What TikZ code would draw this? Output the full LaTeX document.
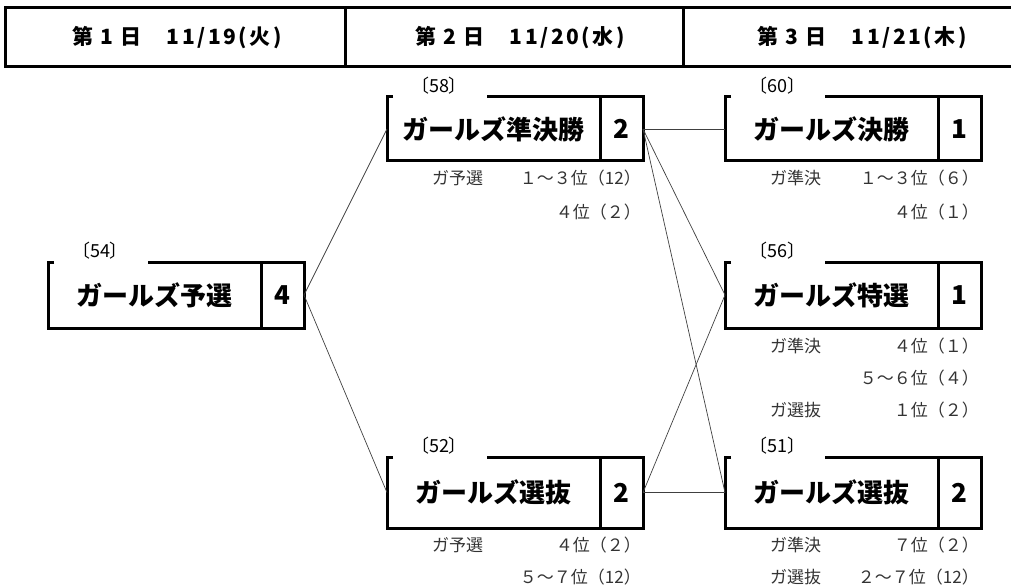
\documentclass[tikz,border=0pt]{standalone}
\usepackage{fontspec}
\setmainfont{Noto Sans CJK JP}

\tikzset{
  head/.style={font=\bfseries\fontsize{21}{24}\selectfont\addfontfeatures{LetterSpace=12}},
  title/.style={inner sep=0pt, outer sep=0pt, minimum width=213pt, font=\bfseries\fontsize{26}{28}\selectfont},
  count/.style={inner sep=0pt, outer sep=0pt, minimum width=43pt, font=\bfseries\fontsize{26}{28}\selectfont},
  tag/.style={inner sep=0pt, font=\fontsize{18}{20}\selectfont},
  note/.style={inner sep=0pt, text=black!80, font=\fontsize{17}{19}\selectfont},
  frame/.style={line width=3pt, line join=miter},
  link/.style={line width=0.7pt, draw=black!75}
}

\begin{document}
\begin{tikzpicture}[x=1pt, y=-1pt]
  \useasboundingbox (0,0) rectangle (1011,588);

  % header
  \draw[frame] (5,8) rectangle (1040,67);
  \draw[frame] (345,8) -- (345,67);
  \draw[frame] (683,8) -- (683,67);
  \node[head] (d1) at (177,38) {第 1 日\hspace{1.2em}11/19(火)};
  \node[head] (d2) at (520,38) {第 2 日\hspace{1.2em}11/20(水)};
  \node[head] (d3) at (862,38) {第 3 日\hspace{1.2em}11/21(木)};

  % races
  \foreach \id/\x/\y/\h/\name/\n in {54/48/262/66/ガールズ予選/4,
      58/387/97/64/ガールズ準決勝/2, 52/387/457/71/ガールズ選抜/2,
      60/725/97/64/ガールズ決勝/1, 56/725/262/66/ガールズ特選/1,
      51/725/457/71/ガールズ選抜/2} {
    \node[title, minimum height=\h pt] (t\id) at (\x+106.5,\y+\h/2) {\name};
    \node[count, minimum height=\h pt] (c\id) at (\x+234.5,\y+\h/2) {\n};
    \node[tag] (l\id) at (\x+52,\y-11) {〔\id〕};
    \draw[frame] ([xshift=6pt]t\id.north west) -- (t\id.north west) -- (t\id.south west)
      -- (c\id.south east) -- (c\id.north east) -- ([xshift=100pt]t\id.north west);
    \draw[frame] (c\id.north west) -- (c\id.south west);
  }

  % qualifiers
  \node[note, anchor=west] (g58a) at (432,178) {ガ予選};
  \node[note, anchor=east] (s58a) at (641,178) {１～３位（12）};
  \node[note, anchor=east] (s58b) at (641,212) {４位（２）};

  \node[note, anchor=west] (g52a) at (432,545) {ガ予選};
  \node[note, anchor=east] (s52a) at (641,545) {４位（２）};
  \node[note, anchor=east] (s52b) at (641,577) {５～７位（12）};

  \node[note, anchor=west] (g60a) at (770,178) {ガ準決};
  \node[note, anchor=east] (s60a) at (979,178) {１～３位（６）};
  \node[note, anchor=east] (s60b) at (979,212) {４位（１）};

  \node[note, anchor=west] (g56a) at (770,346) {ガ準決};
  \node[note, anchor=east] (s56a) at (979,346) {４位（１）};
  \node[note, anchor=east] (s56b) at (979,378) {５～６位（４）};
  \node[note, anchor=west] (g56c) at (770,410) {ガ選抜};
  \node[note, anchor=east] (s56c) at (979,410) {１位（２）};

  \node[note, anchor=west] (g51a) at (770,545) {ガ準決};
  \node[note, anchor=east] (s51a) at (979,545) {７位（２）};
  \node[note, anchor=west] (g51b) at (770,577) {ガ選抜};
  \node[note, anchor=east] (s51b) at (979,577) {２～７位（12）};

  % connectors
  \draw[link] (c54.east) -- (t58.west);
  \draw[link] (c54.east) -- (t52.west);
  \draw[link] (c58.east) -- (t60.west);
  \draw[link] (c58.east) -- (t56.west);
  \draw[link] (c58.east) -- (t51.west);
  \draw[link] (c52.east) -- (t56.west);
  \draw[link] (c52.east) -- (t51.west);
\end{tikzpicture}
\end{document}
